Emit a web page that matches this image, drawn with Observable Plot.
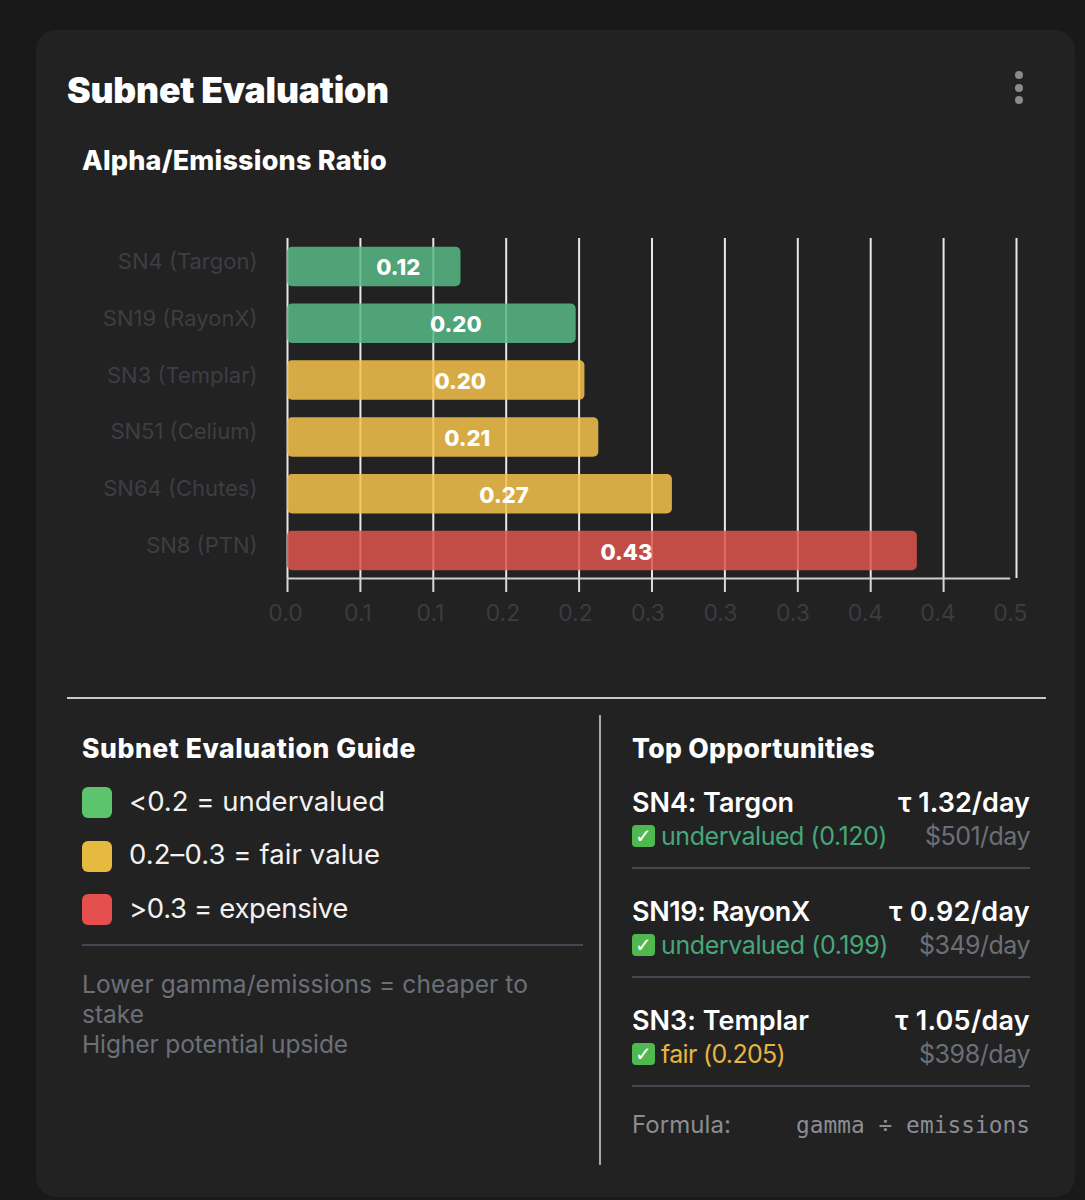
<!DOCTYPE html>
<html><head><meta charset="utf-8">
<script src="https://cdn.jsdelivr.net/npm/d3@7"></script>
<script src="https://cdn.jsdelivr.net/npm/@observablehq/plot@0.6"></script>
<style>
html,body{margin:0;padding:0;background:#191919;width:1085px;height:1200px;overflow:hidden;font-family:Inter,sans-serif}
#card{position:absolute;left:36px;top:30px;width:1039px;height:1167px;background:#222222;border-radius:20px}
#root{position:absolute;left:0;top:0;width:1085px;height:1200px}
#chart{position:absolute;left:0;top:200px}
.t{position:absolute;white-space:nowrap;line-height:1}
.b{position:absolute}
</style></head><body>
<div id="card"></div><div id="root"><div id="chart"></div></div>
<script>
const subnets=["SN4 (Targon)","SN19 (RayonX)","SN3 (Templar)","SN51 (Celium)","SN64 (Chutes)","SN8 (PTN)"];
const ratios=[0.119,0.198,0.204,0.2135,0.264,0.432];
const valueLabels=["0.12","0.20","0.20","0.21","0.27","0.43"];
const tiers=["under","under","fair","fair","fair","expensive"];
const tierNames=["under","fair","expensive"];
const tierColors=["#57ba86","#f6c34b","#de554d"];
const xTicks=[0,0.05,0.1,0.15,0.2,0.25,0.3,0.35,0.4,0.45,0.5];
const xTickLabels=["0.0","0.1","0.1","0.2","0.2","0.3","0.3","0.3","0.4","0.4","0.5"];
const guideItems=["<0.2 = undervalued","0.2–0.3 = fair value",">0.3 = expensive"];
const guideNotes=["Lower gamma/emissions = cheaper to","stake","Higher potential upside"];
const oppNames=["SN4: Targon","SN19: RayonX","SN3: Templar"];
const oppTao=["τ 1.32/day","τ 0.92/day","τ 1.05/day"];
const oppUsd=["$501/day","$349/day","$398/day"];
const oppStatus=["undervalued (0.120)","undervalued (0.199)","fair (0.205)"];

const rows=subnets.map((name,i)=>({name,ratio:ratios[i],label:valueLabels[i],tier:tiers[i]}));
const chart=Plot.plot({
  width:1085,height:450,marginLeft:287,marginRight:69,marginTop:38,marginBottom:72,
  style:{background:"transparent",fontFamily:"Inter, sans-serif",overflow:"visible"},
  x:{domain:[0,0.5],axis:null},
  y:{domain:subnets,type:"band",paddingInner:0.305,paddingOuter:0.1525,round:false,range:[38,379],axis:null},
  color:{domain:tierNames,range:tierColors},
  marks:[
    Plot.ruleX(xTicks,{stroke:"#e8e8e8",strokeWidth:2}),
    Plot.axisX({ticks:xTicks.slice(0,-1),tickSize:14,tickFormat:()=>"",stroke:"#d8d8d8",strokeWidth:2,label:null}),
    Plot.barX(rows,{x:"ratio",y:"name",fill:"tier",fillOpacity:0.85,rx:5}),
    Plot.ruleY([subnets[subnets.length-1]],{y:d=>d,x1:0,x2:0.496,stroke:"#cfcfcf",strokeWidth:2,dy:27.5}),
    Plot.axisY({tickSize:0,tickPadding:30,fontSize:22,dy:-5,color:"#3c3e43",label:null,tickFormat:d=>d}),
    Plot.text(rows,{x:d=>d.ratio/2,y:"name",text:"label",dx:24,dy:1.5,fill:"#fff",fontSize:22,fontWeight:800}),
    Plot.text(xTicks,{x:d=>d*0.9945-0.0014,text:(d,i)=>xTickLabels[i],frameAnchor:"bottom",dy:42,fill:"#3a3c41",fontSize:23})
  ]
});
document.getElementById("chart").append(chart);

const root=document.getElementById("root");
function T(text,x,base,size,weight,color,w,opt={}){
  const e=document.createElement("div");e.className="t";e.textContent=text;
  e.style.fontSize=size+"px";e.style.fontWeight=weight;e.style.color=color;
  e.style.fontFamily=opt.font||"Inter, sans-serif";
  e.style.top=(base+3-size*0.95)+"px";
  root.append(e);
  const natural=e.getBoundingClientRect().width;
  if(w&&!opt.mono)e.style.letterSpacing=((w-natural)/text.length)+"px";
  const width=w||natural;
  e.style.left=(opt.right?x-width:x)+"px";
  return e;
}
function B(x,y,w,h,c,r=0){
  const e=document.createElement("div");e.className="b";
  e.style.cssText+=`left:${x}px;top:${y}px;width:${w}px;height:${h}px;background:${c};border-radius:${r}px`;
  root.append(e);return e;
}
T("Subnet Evaluation",67,103.5,35.5,900,"#fff",322);
T("Alpha/Emissions Ratio",82,170,27,800,"#fff",305);
[75,88,100].forEach(y=>B(1015,y-4,8,8,"#8b8b8b",4));
B(67,697,979,2,"#c9c9c9");
B(599,715,2,450,"#a8a8a8");
T("Subnet Evaluation Guide",82,757,26.5,800,"#fff",334);
const guideW=[256,251,219],guideC=["#5cc46c","#e6b93f","#e5504f"];
guideItems.forEach((s,i)=>{const y=[787,840.5,894][i];
  B(82,y,30,31,guideC[i],6);T(s,129,y+24,27.5,400,"#f2f2f2",guideW[i]);});
B(82,944,501,2,"#454852");
[[0,446],[1,62],[2,266]].forEach(([i,w])=>T(guideNotes[i],82,[992,1022,1052][i],24.5,400,"#6d6f78",w));

T("Top Opportunities",632,757,26.5,800,"#fff",243);
const nameW=[162,178,177],taoW=[132,141,135],usdW=[105,111,111],statusW=[226,227,124],
      statusC=["#46a77a","#46a77a","#e7b53f"];
oppNames.forEach((s,i)=>{const o=109*i;
  T(s,632,812+o,27,600,"#fff",nameW[i]);
  T(oppTao[i],1030,812+o,27,600,"#fff",taoW[i],{right:true});
  const box=B(632,825+o,23,22,"#4fb84f",4);
  box.style.cssText+=";display:flex;align-items:center;justify-content:center;color:#fff;font:800 20px 'DejaVu Sans',sans-serif";
  box.textContent="✓";
  T(oppStatus[i],661,845+o,25,400,statusC[i],statusW[i]);
  T(oppUsd[i],1030,845+o,25,400,"#6d6f78",usdW[i],{right:true});
  B(632,867+o,398,2,"#454852");
});
T("Formula:",632,1133,24,400,"#8b8d92",99);
T("gamma ÷ emissions",1030,1133,22.8,400,"#8b8d92",234,{right:true,font:"'DejaVu Sans Mono',monospace"});
</script></body></html>
